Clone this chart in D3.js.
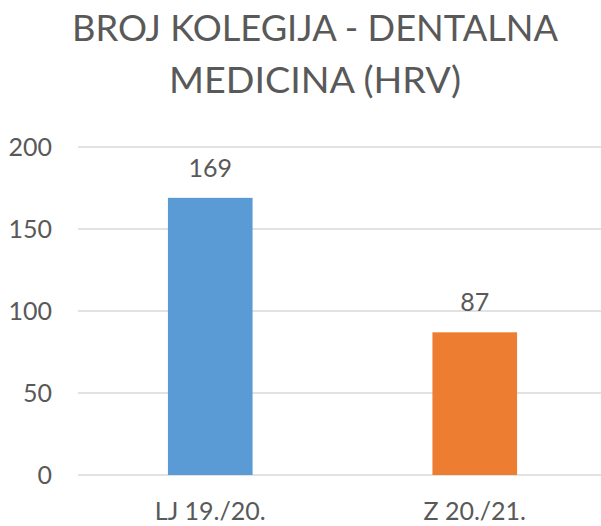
<!DOCTYPE html>
<html>
<head>
<meta charset="utf-8">
<script src="https://cdn.jsdelivr.net/npm/d3@7"></script>
<style>
body { margin: 0; background: #fff; }
text { font-family: Lato, "Open Sans", sans-serif; fill: #595959; }
</style>
</head>
<body>
<div id="chart"></div>
<script>
var width = 601;
var height = 526;

var titleLines = ["BROJ KOLEGIJA - DENTALNA", "MEDICINA (HRV)"];
var categories = ["LJ 19./20.", "Z 20./21."];
var values = [169, 87];
var colors = ["#5b9bd5", "#ed7d31"];
var yTicks = [0, 50, 100, 150, 200];

var svg = d3.select("#chart").append("svg")
	.attr("width", width)
	.attr("height", height);

var x = d3.scaleBand()
	.domain(categories)
	.range([78, 607])
	.paddingInner(0.68)
	.paddingOuter(0.34);

var y = d3.scaleLinear()
	.domain([0, 200])
	.range([475, 147]);

// title
svg.selectAll(".title")
	.data(titleLines)
	.enter()
	.append("text")
	.attr("class", "title")
	.attr("x", 315)
	.attr("y", function(d, i) { return 41 + i * 52; })
	.attr("text-anchor", "middle")
	.style("font-size", "36px")
	.attr("textLength", function(d, i) { return i == 0 ? 486 : 292; })
	.attr("lengthAdjust", "spacingAndGlyphs")
	.text(function(d) { return d; });

// gridlines
svg.selectAll(".grid")
	.data(yTicks)
	.enter()
	.append("line")
	.attr("class", "grid")
	.attr("x1", 78)
	.attr("x2", width)
	.attr("y1", function(d) { return y(d); })
	.attr("y2", function(d) { return y(d); })
	.attr("stroke", "#d9d9d9")
	.attr("stroke-width", 1.5);

// y axis labels
var yAxis = svg.append("g")
	.attr("transform", "translate(52,0)")
	.call(d3.axisLeft(y).tickValues(yTicks).tickSize(0).tickPadding(0));
yAxis.select(".domain").remove();
yAxis.selectAll("text")
	.attr("fill", "#595959")
	.style("font-size", "25px")
	.style("font-family", "Lato, 'Open Sans', sans-serif");

// bars
svg.selectAll(".bar")
	.data(values)
	.enter()
	.append("rect")
	.attr("class", "bar")
	.attr("x", function(d, i) { return x(categories[i]); })
	.attr("width", x.bandwidth())
	.attr("y", function(d) { return y(d); })
	.attr("height", function(d) { return y(0) - y(d); })
	.attr("fill", function(d, i) { return colors[i]; });

// value labels
svg.selectAll(".value")
	.data(values)
	.enter()
	.append("text")
	.attr("class", "value")
	.attr("x", function(d, i) { return x(categories[i]) + x.bandwidth() / 2; })
	.attr("y", function(d) { return y(d) - 21; })
	.attr("text-anchor", "middle")
	.style("font-size", "25px")
	.text(function(d) { return d; });

// x axis labels
var xAxis = svg.append("g")
	.attr("transform", "translate(0," + y(0) + ")")
	.call(d3.axisBottom(x).tickSize(0).tickPadding(27));
xAxis.select(".domain").remove();
xAxis.selectAll("text")
	.attr("fill", "#595959")
	.style("font-size", "25px")
	.style("font-family", "Lato, 'Open Sans', sans-serif");
</script>
</body>
</html>
